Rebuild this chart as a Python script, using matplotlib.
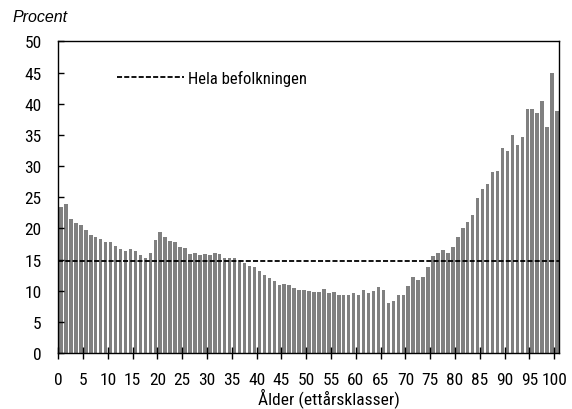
import numpy as np
import matplotlib
matplotlib.use('Agg')
import matplotlib.pyplot as plt

# Andel per ettårsklass (procent), ålder 0-100
ages = np.arange(0, 101)
andel = [
    23.4, 23.9, 21.6, 20.9, 20.5, 19.8, 19.0, 18.7, 18.3, 17.8,
    17.8, 17.2, 16.7, 16.4, 16.7, 16.4, 15.7, 15.3, 16.1, 18.2,
    19.4, 18.7, 18.0, 17.8, 17.0, 16.9, 15.9, 16.0, 15.7, 15.9,
    15.8, 16.0, 15.9, 15.2, 15.2, 15.3, 15.0, 14.5, 14.0, 13.9,
    13.2, 12.6, 12.1, 11.6, 11.0, 11.1, 11.0, 10.4, 10.1, 10.2,
    10.0, 9.8, 9.8, 10.3, 9.6, 9.8, 9.4, 9.4, 9.3, 9.6,
    9.4, 10.2, 9.6, 10.0, 10.6, 10.1, 8.1, 8.4, 9.3, 9.3,
    10.8, 12.2, 11.8, 12.3, 13.9, 15.6, 16.1, 16.6, 16.0, 17.0,
    18.6, 20.1, 21.0, 22.2, 24.9, 26.4, 27.2, 29.1, 29.2, 32.9,
    32.5, 35.0, 33.4, 34.6, 39.2, 39.2, 38.5, 40.4, 36.2, 45.0,
    38.9,
]
hela_befolkningen = 14.8

xticks = list(range(0, 101, 5))
yticks = list(range(0, 51, 5))

plt.rcParams['font.family'] = ['Roboto Condensed', 'DejaVu Sans']
plt.rcParams['font.size'] = 12.5

fig = plt.figure(figsize=(5.72, 4.10), dpi=100)
ax = fig.add_axes([0.1019, 0.1359, 0.8758, 0.7609])

ax.bar(ages + 0.55, andel, width=0.7, color='#808080', linewidth=0)
ax.axhline(hela_befolkningen, color='black', lw=1.3, linestyle=(0, (2.8, 1.2)),
           label='Hela befolkningen')

ax.set_xlim(0, 101)
ax.set_ylim(0, 50)
ax.set_xticks(xticks)
ax.set_yticks(yticks)
ax.tick_params(axis='y', direction='in', length=4, width=1, pad=12)
ax.tick_params(axis='x', direction='inout', length=9, width=1, pad=9)
for s in ax.spines.values():
    s.set_linewidth(1)

ax.set_xlabel('Ålder (ettårsklasser)')
ax.xaxis.set_label_coords(0.54, -0.108)
fig.text(0.022, 0.958, 'Procent', family=['Liberation Sans', 'DejaVu Sans'],
         fontstyle='italic', fontsize=11.5, va='center', ha='left')

ax.legend(loc='upper left', bbox_to_anchor=(0.117, 0.908), frameon=False, fontsize=12,
          handlelength=4.0, handletextpad=0.25, borderpad=0, borderaxespad=0)

fig.savefig('out.png', dpi=100)
